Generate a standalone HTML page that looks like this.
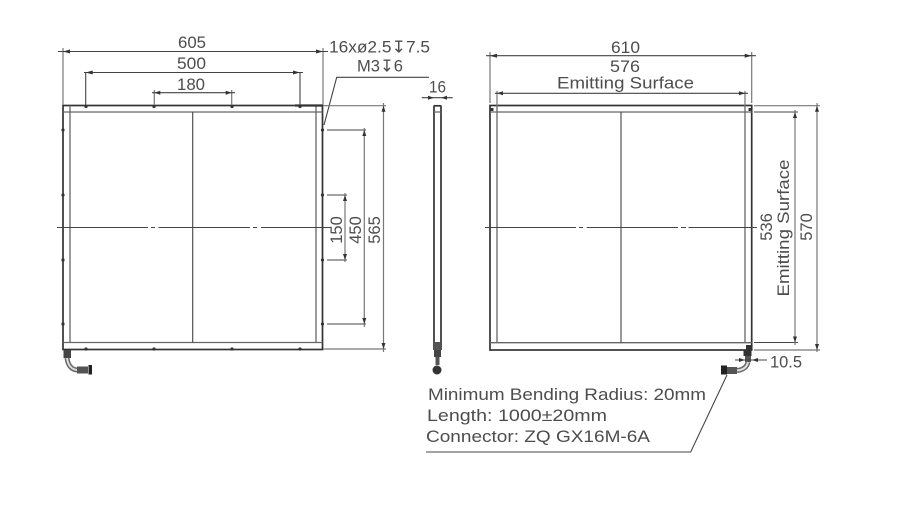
<!DOCTYPE html>
<html><head><meta charset="utf-8"><style>
html,body{margin:0;padding:0;background:#fff;width:905px;height:508px;overflow:hidden}
svg{display:block;filter:blur(0.35px)}
text{font-family:"Liberation Sans","DejaVu Sans",sans-serif;font-size:16.5px;fill:#4d4d4d}
.o{stroke:#333;stroke-width:1.7;fill:none}
.i{stroke:#666;stroke-width:1.3;fill:none}
.d{stroke:#444;stroke-width:1.1;fill:none}
.e{stroke:#777;stroke-width:1.2;fill:none}
.a{fill:#333}
</style></head><body>
<svg width="905" height="508" viewBox="0 0 905 508" xmlns="http://www.w3.org/2000/svg">

<!-- LEFT PANEL -->
<rect class="o" x="63" y="105.5" width="259.5" height="244"/>
<path class="i" d="M70 105.5V342.5M316 105.5V342.5M63 112H322.5M63 342.5H322.5"/>
<path class="d" d="M192.7 112V342.5"/>
<path class="d" d="M57 227.5H148M151 227.5H155M158.5 227.5H250M253 227.5H257M261 227.5H331"/>
<path d="M295 105.5H323" stroke="#333" stroke-width="2.2"/>
<g class="a">
<circle cx="86" cy="106.5" r="1.6"/><circle cx="154" cy="106.5" r="1.6"/><circle cx="232" cy="106.5" r="1.6"/><circle cx="300" cy="106.5" r="1.6"/>
<circle cx="86" cy="349" r="1.6"/><circle cx="154" cy="349" r="1.6"/><circle cx="232" cy="349" r="1.6"/><circle cx="300" cy="349" r="1.6"/>
<circle cx="63" cy="130" r="1.6"/><circle cx="63" cy="195" r="1.6"/><circle cx="63" cy="260" r="1.6"/><circle cx="63" cy="324" r="1.6"/>
<circle cx="322.5" cy="130" r="1.6"/><circle cx="322.5" cy="195" r="1.6"/><circle cx="322.5" cy="260" r="1.6"/><circle cx="322.5" cy="324" r="1.6"/>
</g>
<!-- left connector -->
<rect x="63.5" y="350" width="7.5" height="8" fill="#444"/>
<path d="M67 358C68 366 72 370 78 370" stroke="#666" stroke-width="5" fill="none"/>
<path d="M67 358C68 366 72 370 78 370" stroke="#ddd" stroke-width="2" fill="none"/>
<rect x="77" y="366.5" width="11" height="7" fill="#555"/>
<rect x="88.5" y="365" width="3.5" height="9.5" fill="#222"/>

<!-- left dims -->
<path class="e" d="M63 48V105M323 48V105"/>
<path class="d" d="M58 51.5H328" />
<path class="a" d="M63 51.5l7-2v4zM323 51.5l-7-2v4z"/>
<path class="d" d="M85.7 72V105M300 72V105"/>
<path class="d" d="M84 72.5H303"/>
<path class="a" d="M85.7 72.5l7-2v4zM300 72.5l-7-2v4z"/>
<path class="e" d="M154.3 90V105M231.7 90V105"/>
<path class="d" d="M152 92.7H235"/>
<path class="a" d="M154.3 92.7l6-2v4zM231.7 92.7l-6-2v4z"/>
<text x="178" y="48" textLength="28" lengthAdjust="spacingAndGlyphs">605</text>
<text x="177" y="69" textLength="29" lengthAdjust="spacingAndGlyphs">500</text>
<text x="177" y="90" textLength="28" lengthAdjust="spacingAndGlyphs">180</text>

<text x="329" y="52.5" textLength="101" lengthAdjust="spacingAndGlyphs">16xø2.5↧7.5</text>
<text x="357" y="71.5" textLength="46" lengthAdjust="spacingAndGlyphs">M3↧6</text>
<path class="d" d="M324 125L336.7 77.3H429"/>
<text x="429" y="92.5" textLength="17" lengthAdjust="spacingAndGlyphs">16</text>
<path class="d" d="M421.7 97.7H452.7"/>
<path class="a" d="M434 97.7l-6-2v4zM441 97.7l6-2v4z"/>

<!-- vertical dims, left panel right side -->
<path class="d" d="M327 130H366M327 195H347M327 260H347M327 324H366"/>
<path class="e" d="M345 193V262"/>
<path class="a" d="M345 195l-2 6h4zM345 260l-2-6h4z"/>
<path class="e" d="M364.3 128V327"/>
<path class="a" d="M364.3 130l-2 6h4zM364.3 324l-2-6h4z"/>
<path class="e" d="M383.5 103V352"/>
<path class="e" d="M323 105.7H386M323 349H386"/>
<path class="a" d="M383.5 105.7l-2 6h4zM383.5 349l-2-6h4z"/>
<text transform="translate(342 230) rotate(-90)" text-anchor="middle">150</text>
<text transform="translate(361 230) rotate(-90)" text-anchor="middle">450</text>
<text transform="translate(380 230) rotate(-90)" text-anchor="middle">565</text>

<!-- SIDE PANEL -->
<path class="o" d="M434 105.5V350M441 105.5V350"/>
<path class="o" d="M434 105.8H441" stroke-width="1.5"/>
<path class="i" d="M434 112H441"/>
<rect x="434" y="342" width="7" height="8" fill="#555"/>
<rect x="434" y="350" width="7" height="7" fill="#444"/>
<rect x="435.5" y="357" width="4" height="8" fill="#555"/>
<circle cx="437" cy="370" r="4.5" fill="#333"/>

<!-- RIGHT PANEL -->
<rect class="o" x="490" y="105.5" width="261.7" height="244.5"/>
<path class="i" d="M497 105.5V342.7M745 105.5V342.7M490 112H751.7M490 342.7H751.7"/>
<path class="d" d="M621 112V342.7"/>
<path class="d" d="M485 227.5H576M579 227.5H583M586.7 227.5H678M681 227.5H686M688.5 227.5H757"/>
<path class="a" d="M490.5 108h3v3h-3zM748.5 108h3v3h-3zM746 345h5v5h-5z"/>

<path class="e" d="M490 52V103M751.7 52V103"/>
<path class="d" d="M486 55.7H756"/>
<path class="a" d="M490 55.7l7-2v4zM751.7 55.7l-7-2v4z"/>
<path class="e" d="M497 91V111M745 91V111"/>
<path class="d" d="M495 93.3H748"/>
<path class="a" d="M497 93.3l6-2v4zM745 93.3l-6-2v4z"/>
<text x="611" y="53" textLength="29" lengthAdjust="spacingAndGlyphs">610</text>
<text x="610" y="72" textLength="30" lengthAdjust="spacingAndGlyphs">576</text>
<text x="557" y="88.5" textLength="137" lengthAdjust="spacingAndGlyphs">Emitting Surface</text>

<path class="d" d="M754 112H798M754 342.5H798"/>
<path class="e" d="M754 105.7H820M754 350H820"/>
<path class="e" d="M795 110V345"/>
<path class="a" d="M795 112l-2 6h4zM795 342.5l-2-6h4z"/>
<path class="e" d="M817 103V352" stroke="#666"/>
<path class="a" d="M817 105.7l-2 6h4zM817 350l-2-6h4z"/>
<text transform="translate(772 227) rotate(-90)" text-anchor="middle">536</text>
<text transform="translate(789 228) rotate(-90)" text-anchor="middle" textLength="137" lengthAdjust="spacingAndGlyphs">Emitting Surface</text>
<text transform="translate(812 227) rotate(-90)" text-anchor="middle">570</text>

<!-- right connector -->
<rect x="743.5" y="350" width="8" height="6" fill="#333"/>
<rect x="745" y="356" width="6" height="6" fill="#555"/>
<path d="M748 362C747 367 743 370 737 370.5" stroke="#666" stroke-width="5" fill="none"/>
<path d="M748 362C747 367 743 370 737 370.5" stroke="#ddd" stroke-width="2" fill="none"/>
<rect x="727" y="367" width="10" height="7" fill="#555"/>
<rect x="721" y="365.5" width="6" height="9" fill="#222"/>

<path class="d" d="M735 360H767"/>
<path class="a" d="M745 360l-6-2v4zM752 360l6-2v4z"/>
<text x="770" y="367.5" textLength="32" lengthAdjust="spacingAndGlyphs">10.5</text>

<path class="d" d="M727 375L690.7 452H426"/>
<text x="428" y="400" textLength="278" lengthAdjust="spacingAndGlyphs">Minimum Bending Radius: 20mm</text>
<text x="427" y="421" textLength="180" lengthAdjust="spacingAndGlyphs">Length: 1000±20mm</text>
<text x="426" y="442" textLength="224" lengthAdjust="spacingAndGlyphs">Connector: ZQ GX16M-6A</text>
</svg>
</body></html>
